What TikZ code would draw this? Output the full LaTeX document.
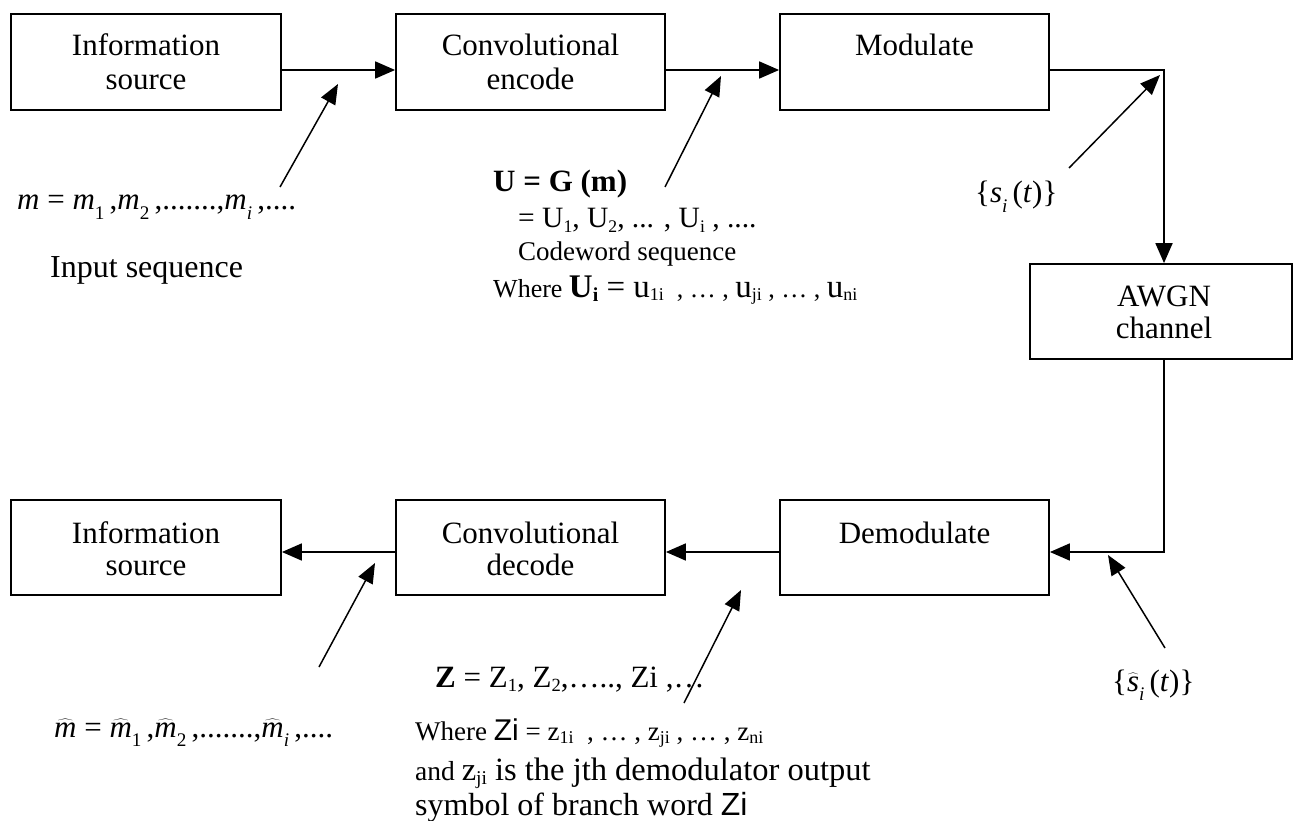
\documentclass[tikz,border=0pt]{standalone}
\usepackage{fontspec}
\setmainfont{Liberation Serif}
\newfontfamily\arialf{Liberation Sans}
\usetikzlibrary{arrows.meta}
% lowered, reduced subscript in the style of an equation editor
\newcommand\dn[1]{\raisebox{-0.32em}{\scalebox{0.62}{#1}}}
% a shallower subscript for running text
\newcommand\lo[1]{\raisebox{-0.14em}{\scalebox{0.6}{#1}}}
\newcommand\fs[1]{\fontsize{#1}{#1}\selectfont}
\newcommand\hm{$\widehat{\mbox{\itshape m}}$}

\begin{document}
\begin{tikzpicture}[x=1pt,y=-1pt,
  blk/.style={draw, line width=1.8pt, minimum width=269pt, minimum height=96pt, inner sep=0pt},
  lbl/.style={anchor=base, inner sep=0pt, font=\fs{31}},
  txt/.style={anchor=base west, inner sep=0pt},
  flow/.style={line width=1.8pt, -{Triangle[length=20pt,width=17pt]}},
  tag/.style={line width=1.5pt, -{Triangle[length=20pt,width=16pt]}},
]
\useasboundingbox (0,0) rectangle (1293,821);

% transmitter chain
\node[blk, minimum width=270pt] (src) at (146,62) {};
\node[blk] (enc) at (530.5,62) {};
\node[blk] (mod) at (914.5,62) {};
\node[lbl] (src-a) at (146,56) {Information};
\node[lbl] (src-b) at (146,90) {source};
\node[lbl] (enc-a) at (530.5,56) {Convolutional};
\node[lbl] (enc-b) at (530.5,90) {encode};
\node[lbl] (mod-a) at (914.5,56) {Modulate};

% channel
\node[blk, minimum width=262pt, minimum height=95pt] (awgn) at (1161,311.5) {};
\node[lbl] (awgn-a) at (1164,306) {AWGN};
\node[lbl] (awgn-b) at (1164,338) {channel};

% receiver chain
\node[blk, minimum width=270pt, minimum height=95pt] (dsrc) at (146,547.5) {};
\node[blk, minimum height=95pt] (dec) at (530.5,547.5) {};
\node[blk, minimum height=95pt] (dem) at (914.5,547.5) {};
\node[lbl] (dsrc-a) at (146,543) {Information};
\node[lbl] (dsrc-b) at (146,575) {source};
\node[lbl] (dec-a) at (530.5,543) {Convolutional};
\node[lbl] (dec-b) at (530.5,575) {decode};
\node[lbl] (dem-a) at (914.5,543) {Demodulate};

% signal flow
\coordinate (row1) at (0,70);
\coordinate (row2) at (0,552);
\coordinate (c1) at (1164,70);
\coordinate (c2) at (1164,552);
\draw[flow] (src.east |- row1) -- (enc.west |- row1);
\draw[flow] (enc.east |- row1) -- (mod.west |- row1);
\draw[flow] (mod.east |- row1) -- (c1) -- (c1 |- awgn.north);
\draw[flow] (c1 |- awgn.south) -- (c2) -- (dem.east |- row2);
\draw[flow] (dem.west |- row2) -- (dec.east |- row2);
\draw[flow] (dec.west |- row2) -- (dsrc.east |- row2);

% sequence annotations
\node[txt, font=\fs{31}] (mseq) at (17,210)
  {\textit{m} = \textit{m}\dn{1}\,,\textit{m}\dn{2}\,,.......,\textit{m}\dn{\textit{i}}\,,....};
\node[txt, font=\fs{32}] (inseq) at (50,277) {Input sequence};
\node[txt, font=\bfseries\fs{31}] (ueq) at (493,192) {U = G (m)};
\node[txt, font=\fs{29.5}] (ulist) at (518,228) {= U\lo{1}, U\lo{2}, ... , U\lo{i} , ....};
\node[txt, font=\fs{27}] (cw) at (518,260) {Codeword sequence};
\node[txt, font=\fs{26}] (uwhere) at (493,297)
  {Where {\fs{33}\textbf{U\lo{i}} = u}\lo{\fs{30}1i}\ \ , … , {\fs{33}u}\lo{\fs{30}ji} , … , {\fs{33}u}\lo{\fs{30}ni}};
\node[txt, font=\fs{31}] (sig) at (975,203) {\{\textit{s}\dn{\textit{i}}\,(\textit{t})\}};

\node[txt, font=\fs{31}] (zeq) at (435,687) {\textbf{Z} = Z\lo{1}, Z\lo{2},….., Zi ,…};
\node[txt, font=\fs{31}] (mhat) at (54,737)
  {\hm{} = \hm\dn{1}\,,\hm\dn{2}\,,.......,\hm\dn{\textit{i}}\,,....};
\node[txt, font=\fs{27}] (zwhere) at (415,740)
  {Where {\arialf\fs{30}Zi} = z\lo{\fs{30}1i}\ \ , … , z\lo{\fs{30}ji} , … , z\lo{\fs{30}ni}};
\node[txt, font=\fs{27.5}] (zand) at (415,780)
  {and {\fs{32.5}z\lo{ji} is the jth demodulator output}};
\node[txt, font=\fs{32}] (zsym) at (415,815) {symbol of branch word {\arialf Zi}};
\node[txt, font=\fs{31}] (sighat) at (1112,691)
  {\{$\widehat{\mbox{\itshape s}}$\dn{\textit{i}}\,(\textit{t})\}};

% pointers from the annotations to the links
\coordinate (t1) at (280,187);  \coordinate (h1) at (338,84);
\coordinate (t2) at (665,187);  \coordinate (h2) at (721,76);
\coordinate (t3) at (1069,168); \coordinate (h3) at (1160,75);
\coordinate (t4) at (319,667);  \coordinate (h4) at (375,563);
\coordinate (t5) at (684,703);  \coordinate (h5) at (741,590);
\coordinate (t6) at (1165,648); \coordinate (h6) at (1108,555);
\draw[tag] (t1) -- (h1);
\draw[tag] (t2) -- (h2);
\draw[tag] (t3) -- (h3);
\draw[tag] (t4) -- (h4);
\draw[tag] (t5) -- (h5);
\draw[tag] (t6) -- (h6);
\end{tikzpicture}
\end{document}
